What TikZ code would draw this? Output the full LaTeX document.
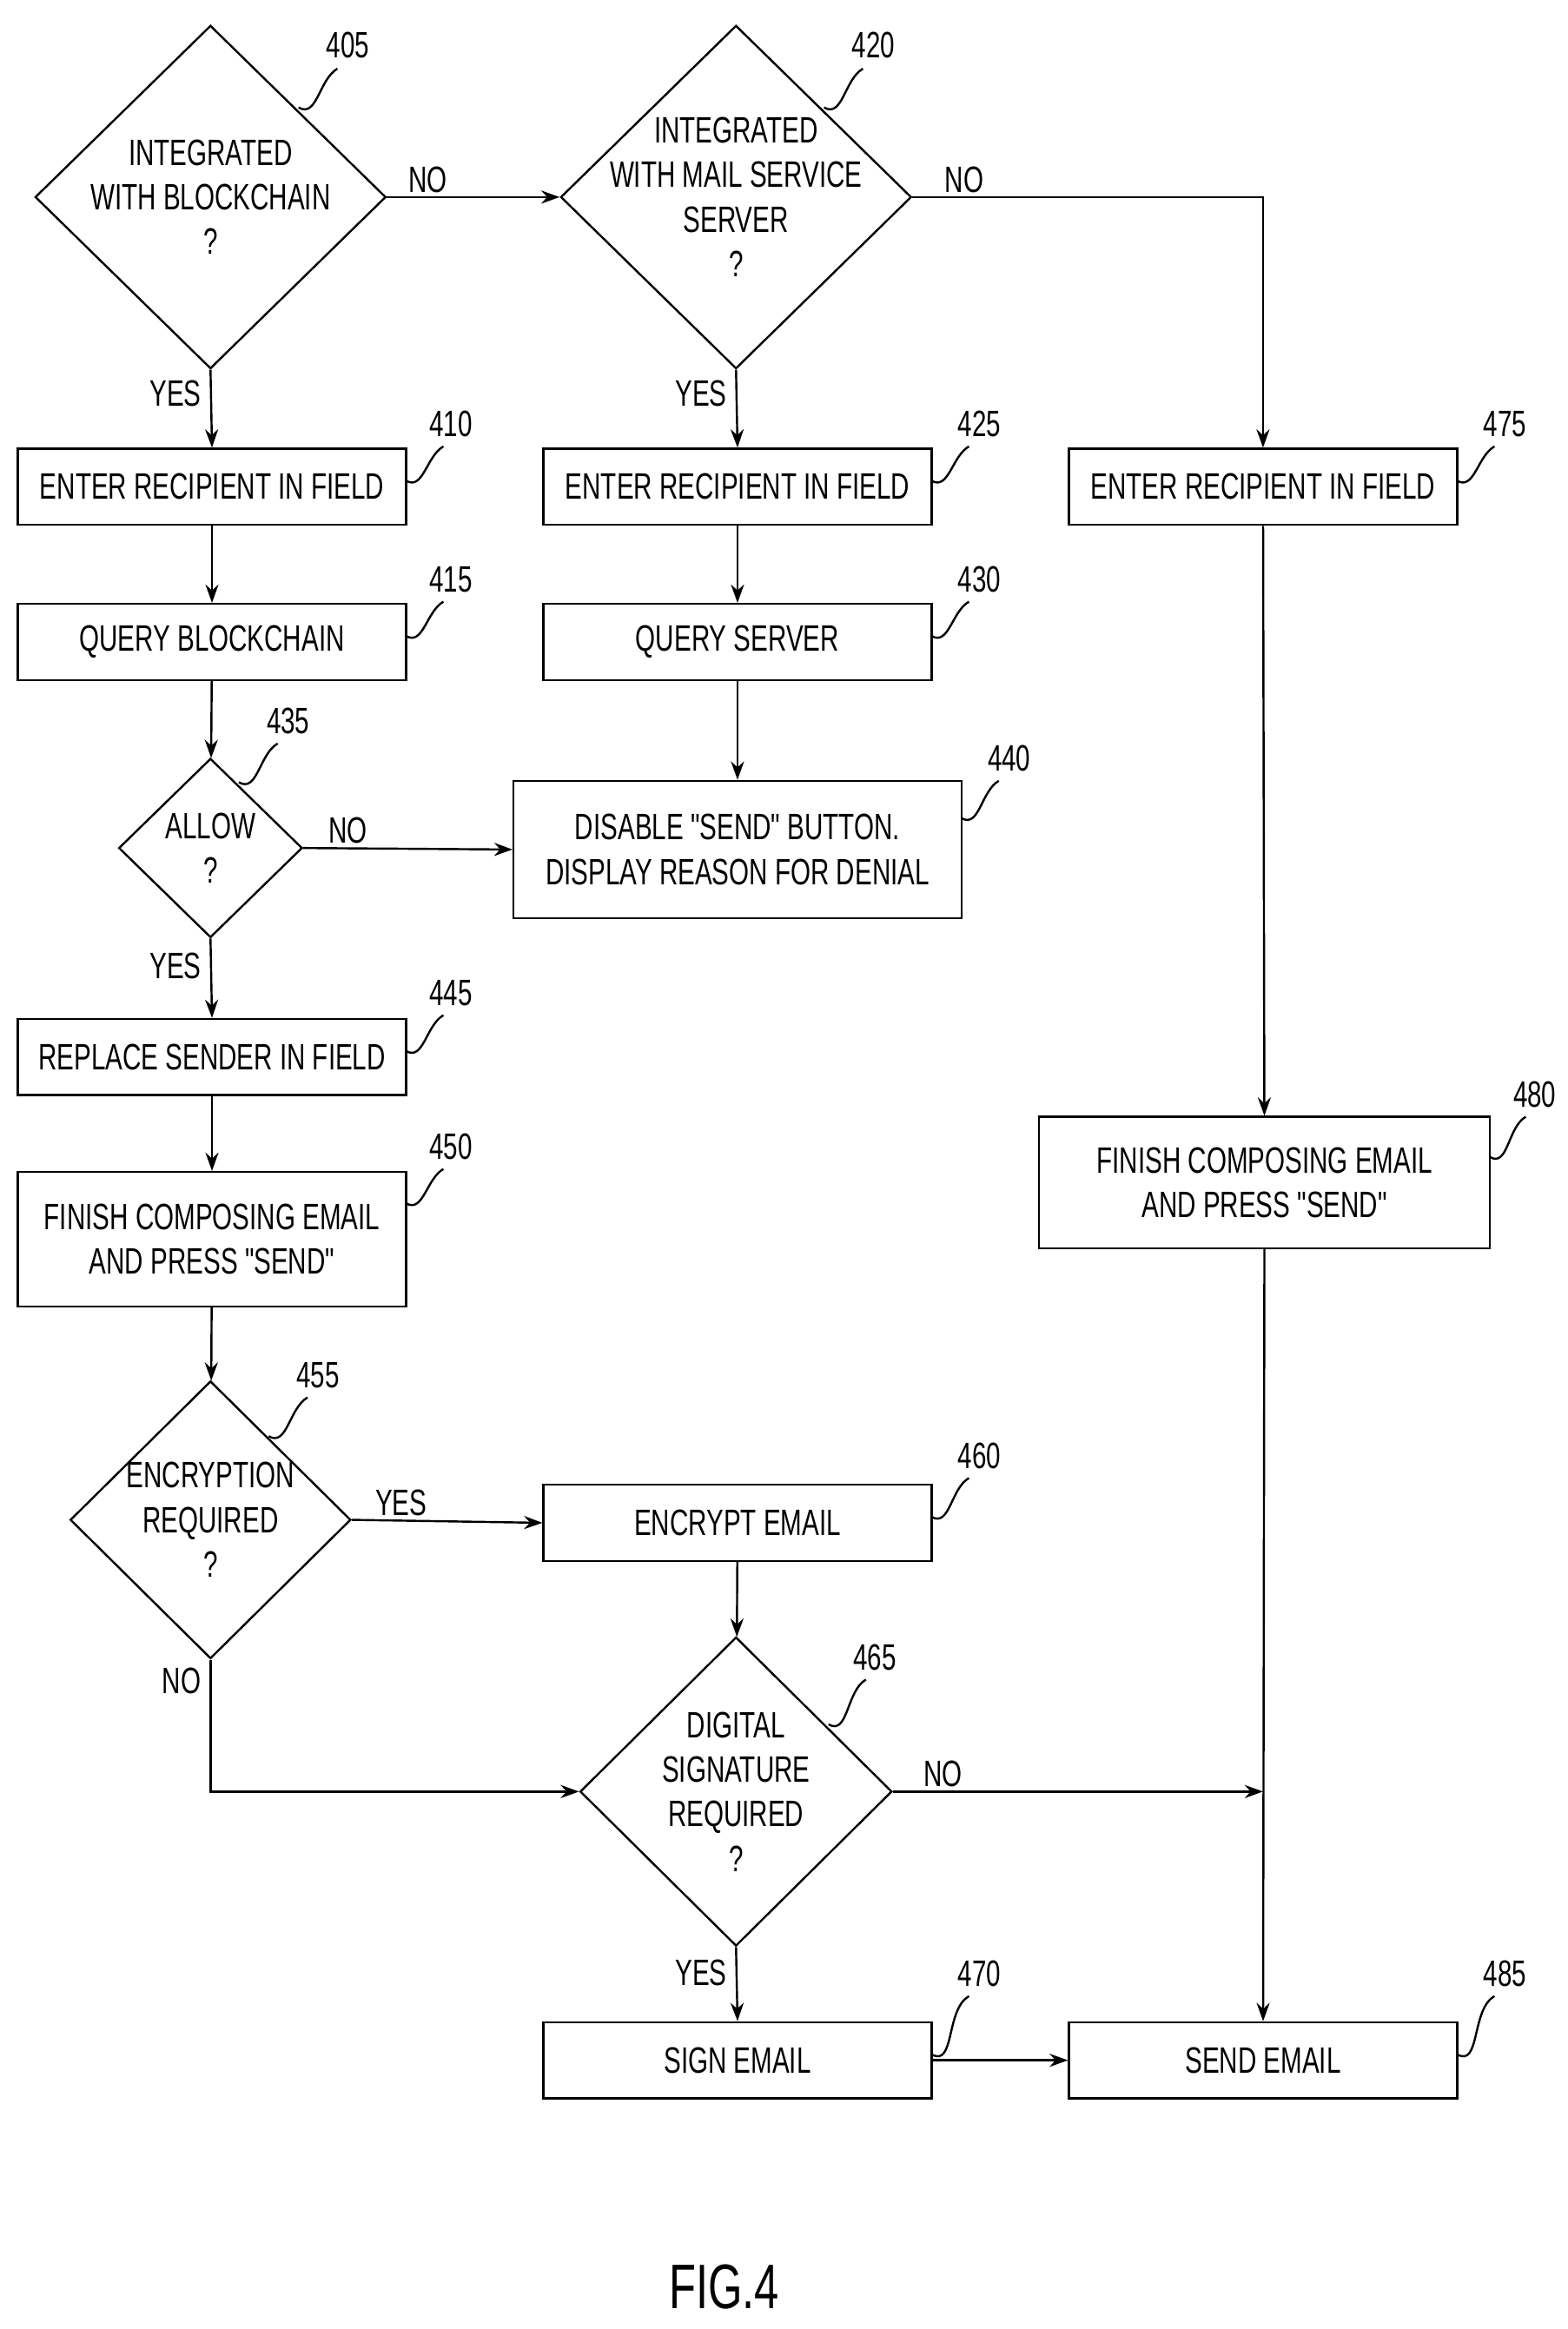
\documentclass[tikz,border=0pt]{standalone}
\usepackage{fontspec}
\setmainfont{Liberation Sans}[FakeStretch=0.7,Ligatures=TeXOff]
\usetikzlibrary{shapes.geometric,arrows.meta}
\tikzset{
  box/.style={draw,thick,minimum width=5.2cm,minimum height=1.02cm,align=center,inner sep=0pt},
  dia/.style={draw,thick,diamond,inner sep=-14pt,align=center},
  arr/.style={thick,-{Stealth[length=7pt,width=5pt]}},
  lead/.style={thick},
  lbl/.style={font=\fontsize{14}{19}\selectfont}
}
\newcommand{\callout}[4]{% from, bend target, label pos, text
  \draw[lead] #1 to[out=-30,in=-150] #2;
  \node[lbl] at #3 {#4};}
\begin{document}
\begin{tikzpicture}[x=0.02cm,y=-0.02cm,font=\fontsize{14}{17}\selectfont]
\useasboundingbox (0,0) rectangle (1050,1560);
% decisions and steps
\node[dia,minimum width=4.7cm,minimum height=4.6cm] (d405) at (141,132) {INTEGRATED\\WITH BLOCKCHAIN\\?};
\node[dia,minimum width=4.7cm,minimum height=4.6cm] (d420) at (493,132) {INTEGRATED\\WITH MAIL SERVICE\\SERVER\\?};
\node[box] (b410) at (142,326) {ENTER RECIPIENT IN FIELD};
\node[box] (b425) at (494,326) {ENTER RECIPIENT IN FIELD};
\node[box] (b475) at (846,326) {ENTER RECIPIENT IN FIELD};
\node[box] (b415) at (142,430) {QUERY BLOCKCHAIN};
\node[box] (b430) at (494,430) {QUERY SERVER};
\node[dia,inner sep=-4pt,minimum width=2.46cm,minimum height=2.4cm] (d435) at (141,568) {ALLOW\\?};
\node[box,minimum width=6cm,minimum height=1.84cm] (b440) at (494,569) {DISABLE "SEND" BUTTON.\\DISPLAY REASON FOR DENIAL};
\node[box] (b445) at (142,708) {REPLACE SENDER IN FIELD};
\node[box,minimum height=1.8cm] (b450) at (142,830) {FINISH COMPOSING EMAIL\\AND PRESS "SEND"};
\node[box,minimum width=6.04cm,minimum height=1.76cm] (b480) at (847,792) {FINISH COMPOSING EMAIL\\AND PRESS "SEND"};
\node[dia,minimum width=3.76cm,minimum height=3.72cm] (d455) at (141,1018) {ENCRYPTION\\REQUIRED\\?};
\node[box] (b460) at (494,1020) {ENCRYPT EMAIL};
\node[dia,minimum width=4.18cm,minimum height=4.14cm] (d465) at (493,1200) {DIGITAL\\SIGNATURE\\REQUIRED\\?};
\node[box] (b470) at (494,1380) {SIGN EMAIL};
\node[box] (b485) at (846,1380) {SEND EMAIL};
% flow
\draw[arr] (d405.east) -- (d420.west) node[pos=0.1,above right=-2pt] {NO};
\draw[arr] (d405.south) -- (b410.north) node[pos=0.3,left] {YES};
\draw[arr] (d420.east) -| (b475.north) node[pos=0.04,above right=-2pt] {NO};
\draw[arr] (d420.south) -- (b425.north) node[pos=0.3,left] {YES};
\draw[arr] (b475) -- (b480);
\draw[arr] (b480) -- (b485);
\draw[arr] (b410) -- (b415);
\draw[arr] (b425) -- (b430);
\draw[arr] (b415) -- (d435);
\draw[arr] (b430) -- (b440);
\draw[arr] (d435.east) -- (b440.west) node[pos=0.1,above right=-2pt] {NO};
\draw[arr] (d435.south) -- (b445.north) node[pos=0.35,left] {YES};
\draw[arr] (b445) -- (b450);
\draw[arr] (b450) -- (d455);
\draw[arr] (d455.east) -- (b460.west) node[pos=0.1,above right=-2pt] {YES};
\draw[arr] (d455.south) |- (d465.west) node[pos=0.08,left] {NO};
\draw[arr] (b460) -- (d465);
\draw[arr] (d465.east) -- (b485.north |- d465.east) node[pos=0.07,above right=-2pt] {NO};
\draw[arr] (d465.south) -- (b470.north) node[pos=0.35,left] {YES};
\draw[arr] (b470) -- (b485);
% reference numbers
\callout{(200,72)}{(226,46)}{(233,30)}{405}
\callout{(552,72)}{(578,46)}{(585,30)}{420}
\callout{(272,322)}{(297,299)}{(302,284)}{410}
\callout{(624,322)}{(649,299)}{(656,284)}{425}
\callout{(976,322)}{(1001,299)}{(1008,284)}{475}
\callout{(272,426)}{(297,403)}{(302,388)}{415}
\callout{(624,426)}{(649,403)}{(656,388)}{430}
\callout{(160,524)}{(186,498)}{(193,483)}{435}
\callout{(644,548)}{(669,523)}{(676,508)}{440}
\callout{(272,704)}{(297,680)}{(302,665)}{445}
\callout{(272,806)}{(297,783)}{(302,768)}{450}
\callout{(998,775)}{(1022,748)}{(1028,733)}{480}
\callout{(180,962)}{(206,936)}{(213,921)}{455}
\callout{(624,1016)}{(649,990)}{(656,975)}{460}
\callout{(555,1155)}{(580,1125)}{(586,1110)}{465}
\callout{(624,1376)}{(649,1337)}{(656,1322)}{470}
\callout{(976,1376)}{(1001,1337)}{(1008,1322)}{485}
\node[font=\fontsize{24}{28}\selectfont] (fig) at (485,1532) {FIG.4};
\end{tikzpicture}
\end{document}
